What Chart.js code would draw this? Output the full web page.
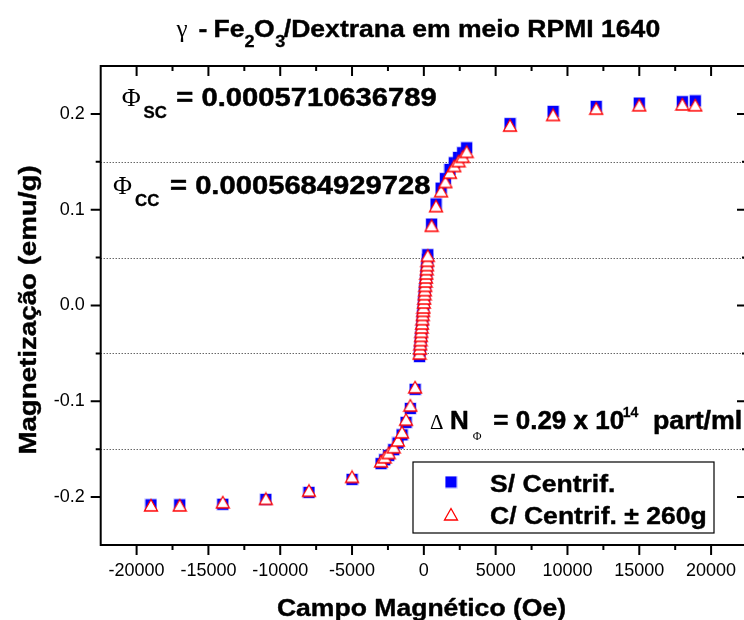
<!DOCTYPE html>
<html>
<head>
<meta charset="utf-8">
<title>Fe2O3/Dextrana - RPMI 1640</title>
<script src="https://cdn.jsdelivr.net/npm/chart.js@4.4.1/dist/chart.umd.min.js"></script>
<style>
  html, body { margin: 0; padding: 0; background: #fff; overflow: hidden; }
  #wrap { width: 760px; height: 620px; }
</style>
</head>
<body>
<div id="wrap"><canvas id="myChart" width="760" height="620"></canvas></div>
<script>
// campo aplicado (Oe) - mesmo ciclo para as duas amostras
var campo = [
  -19000, -17000, -14000, -11000, -8000, -5000,
  -2980, -2730, -2450, -2100, -1800, -1520, -1240, -940, -610,
  -300, -275, -250, -225, -200, -175, -150, -125, -100, -75, -50, -25,
  0, 25, 50, 75, 100, 125, 150, 175, 200, 225, 250, 275,
  540, 850, 1200, 1500, 1820, 2120, 2420, 2700, 2980,
  6000, 9000, 12000, 15000, 18000, 18900
];

// magnetizacao (emu/g) sem centrifugar
var magSemCentrif = [
  -0.2081, -0.2081, -0.2075, -0.2024, -0.1951, -0.1815,
  -0.1650, -0.1610, -0.1565, -0.1505, -0.1435, -0.1350, -0.1220, -0.1075, -0.0875,
  -0.0533, -0.0478, -0.0430, -0.0385, -0.0338, -0.0293, -0.0246, -0.0200, -0.0153, -0.0105, -0.0060, -0.0022,
  0.0032, 0.0076, 0.0122, 0.0165, 0.0211, 0.0258, 0.0301, 0.0344, 0.0390, 0.0434, 0.0481, 0.0530,
  0.0850, 0.1060, 0.1225, 0.1325, 0.1420, 0.1490, 0.1545, 0.1595, 0.1646,
  0.1899, 0.2026, 0.2078, 0.2113, 0.2127, 0.2136
];

// magnetizacao (emu/g) centrifugada a 260g
var magComCentrif = [
  -0.2087, -0.2087, -0.2055, -0.2019, -0.1934, -0.1789,
  -0.1627, -0.1585, -0.1540, -0.1480, -0.1410, -0.1324, -0.1192, -0.1045, -0.0854,
  -0.0502, -0.0450, -0.0404, -0.0362, -0.0317, -0.0275, -0.0230, -0.0188, -0.0143, -0.0098, -0.0056, -0.0021,
  0.0031, 0.0073, 0.0118, 0.0160, 0.0205, 0.0250, 0.0292, 0.0334, 0.0379, 0.0421, 0.0467, 0.0519,
  0.0832, 0.1037, 0.1193, 0.1289, 0.1386, 0.1456, 0.1507, 0.1552, 0.1603,
  0.1878, 0.1989, 0.2055, 0.2090, 0.2099, 0.2090
];

var xTicks = [-20000, -15000, -10000, -5000, 0, 5000, 10000, 15000, 20000];
var xMinor = [-17500, -12500, -7500, -2500, 2500, 7500, 12500, 17500];
var yTicks = [-0.2, -0.1, 0, 0.1, 0.2];
var yMinor = [-0.15, -0.05, 0.05, 0.15];

var SANS = '"Liberation Sans", Arial, sans-serif';
var SERIF = '"Liberation Serif", "Times New Roman", serif';
var STRETCH = 1.13;

function pts(ys) {
  return campo.map(function(x, i) { return { x: x, y: ys[i] }; });
}

// marcadores: quadrado azul cheio e triangulo vazado vermelho
function makeSquare() {
  var c = document.createElement('canvas');
  c.width = 13; c.height = 13;
  var g = c.getContext('2d');
  g.fillStyle = 'rgba(60,60,255,0.45)';
  g.fillRect(0.5, 0.5, 12, 12);
  g.fillStyle = '#0000ff';
  g.fillRect(1, 1, 11, 11);
  return c;
}

function makeTriangle() {
  var c = document.createElement('canvas');
  c.width = 16; c.height = 15;
  var g = c.getContext('2d');
  g.beginPath();
  g.moveTo(8, 1.5);
  g.lineTo(14.5, 13);
  g.lineTo(1.5, 13);
  g.closePath();
  g.fillStyle = '#ffffff';
  g.fill();
  g.strokeStyle = '#ff0000';
  g.lineWidth = 1.3;
  g.stroke();
  return c;
}

var squareMark = makeSquare();
var triMark = makeTriangle();

// texto com esticamento horizontal; 'peso' engrossa um pouco o negrito
function txt(ctx, str, x, y, font, sx, align, peso) {
  ctx.save();
  ctx.font = font;
  ctx.textAlign = align || 'left';
  ctx.textBaseline = 'alphabetic';
  ctx.translate(x, y);
  ctx.scale(sx || 1, 1);
  ctx.fillText(str, 0, 0);
  if (peso) {
    ctx.lineWidth = peso;
    ctx.strokeStyle = '#000';
    ctx.lineJoin = 'round';
    ctx.strokeText(str, 0, 0);
  }
  ctx.restore();
}

var molduraPlugin = {
  id: 'moldura',
  beforeDatasetsDraw: function(chart) {
    var ctx = chart.ctx, a = chart.chartArea, ys = chart.scales.y;
    ctx.save();
    ctx.strokeStyle = '#222';
    ctx.lineWidth = 1;
    ctx.setLineDash([1, 2]);
    yMinor.forEach(function(v) {
      var py = Math.round(ys.getPixelForValue(v)) + 0.5;
      ctx.beginPath();
      ctx.moveTo(a.left, py);
      ctx.lineTo(a.right, py);
      ctx.stroke();
    });
    ctx.restore();
  },
  afterDraw: function(chart) {
    var ctx = chart.ctx, a = chart.chartArea;
    var xs = chart.scales.x, ys = chart.scales.y;
    ctx.save();
    ctx.strokeStyle = '#000';
    ctx.fillStyle = '#000';
    ctx.lineWidth = 2;
    ctx.strokeRect(a.left, a.top, a.right - a.left, a.bottom - a.top);

    function tickX(v, len) {
      var px = xs.getPixelForValue(v);
      ctx.beginPath();
      ctx.moveTo(px, a.bottom); ctx.lineTo(px, a.bottom + len);   // de baixo, para fora
      ctx.moveTo(px, a.top); ctx.lineTo(px, a.top + len);         // de cima, para dentro
      ctx.stroke();
    }
    function tickY(v, len) {
      var py = ys.getPixelForValue(v);
      ctx.beginPath();
      ctx.moveTo(a.left, py); ctx.lineTo(a.left - len, py);
      ctx.moveTo(a.right, py); ctx.lineTo(a.right - len, py);
      ctx.stroke();
    }
    xTicks.forEach(function(v) { tickX(v, 10); });
    xMinor.forEach(function(v) { tickX(v, 5); });
    yTicks.forEach(function(v) { tickY(v, 10); });
    yMinor.forEach(function(v) { tickY(v, 5); });

    // titulo
    var B = 'bold 23.5px ' + SANS;
    txt(ctx, '\u03b3', 176.6, 36.7, '25px ' + SERIF, 1);
    txt(ctx, '-', 198.4, 36.7, B, STRETCH, 'left', 0.4);
    txt(ctx, 'Fe', 213.6, 36.7, B, STRETCH, 'left', 0.4);
    txt(ctx, '2', 244.4, 46.7, 'bold 16px ' + SANS, STRETCH, 'left', 0.3);
    txt(ctx, 'O', 254, 36.7, B, STRETCH, 'left', 0.4);
    txt(ctx, '3', 275.3, 46.7, 'bold 16px ' + SANS, STRETCH, 'left', 0.3);
    txt(ctx, '/Dextrana em meio RPMI 1640', 283.8, 36.7, B, STRETCH, 'left', 0.4);

    // titulos dos eixos
    txt(ctx, 'Campo Magn\u00e9tico (Oe)', 421.5, 616, B, STRETCH, 'center', 0.4);
    ctx.save();
    ctx.translate(36, 310);
    ctx.rotate(-Math.PI / 2);
    txt(ctx, 'Magnetiza\u00e7\u00e3o (emu/g)', 0, 0, 'bold 24.5px ' + SANS, STRETCH, 'center', 0.4);
    ctx.restore();

    // fracoes de volume
    txt(ctx, '\u03a6', 121.7, 106, '26px ' + SERIF, 1);
    txt(ctx, 'SC', 143.5, 118.3, 'bold 16px ' + SANS, 1.05, 'left', 0.3);
    txt(ctx, '= 0.0005710636789', 176.3, 105.5, 'bold 25.6px ' + SANS, 1.14, 'left', 0.5);

    txt(ctx, '\u03a6', 113.1, 193.5, '26px ' + SERIF, 1);
    txt(ctx, 'CC', 135, 206, 'bold 16px ' + SANS, 1.05, 'left', 0.3);
    txt(ctx, '= 0.0005684929728', 170, 193.5, 'bold 25.6px ' + SANS, 1.14, 'left', 0.5);

    // diferenca de particulas
    txt(ctx, '\u0394', 430, 428.5, '21px ' + SERIF, 1);
    txt(ctx, 'N', 450, 429, 'bold 26px ' + SANS, 1, 'left', 0.5);
    txt(ctx, '\u03a6', 472.7, 439.5, '12px ' + SERIF, 1);
    txt(ctx, '= 0.29 x 10', 493.3, 429, 'bold 26px ' + SANS, 1, 'left', 0.5);
    txt(ctx, '14', 622.7, 416.7, 'bold 14px ' + SANS, 1, 'left', 0.3);
    txt(ctx, 'part/ml', 653, 429, 'bold 26px ' + SANS, 1.03, 'left', 0.5);

    // legenda
    ctx.lineWidth = 1.2;
    ctx.strokeRect(413, 462, 301, 71);
    var ds = chart.data.datasets;
    var rows = [482, 514.5];
    ds.forEach(function(d, i) {
      var m = d.pointStyle;
      ctx.drawImage(m, 451 - m.width / 2, rows[i] - m.height / 2);
      txt(ctx, d.label, 490, rows[i] + 9.7, B, STRETCH, 'left', 0.4);
    });
    ctx.restore();
  }
};

var ctx = document.getElementById('myChart').getContext('2d');
var chart = new Chart(ctx, {
  type: 'scatter',
  data: {
    datasets: [{
      label: 'S/ Centrif.',
      data: pts(magSemCentrif),
      pointStyle: squareMark,
      order: 2
    }, {
      label: 'C/ Centrif. \u00b1 260g',
      data: pts(magComCentrif),
      pointStyle: triMark,
      order: 1
    }]
  },
  options: {
    responsive: false,
    animation: false,
    events: [],
    layout: { padding: { top: 66, right: 13, left: 0, bottom: 0 } },
    plugins: {
      legend: { display: false },
      tooltip: { enabled: false },
      title: { display: false }
    },
    scales: {
      x: {
        type: 'linear',
        min: -22500,
        max: 22500,
        afterBuildTicks: function(scale) {
          scale.ticks = xTicks.map(function(v) { return { value: v }; });
        },
        afterFit: function(scale) { scale.height = 75; },
        grid: { display: false, drawTicks: true, tickLength: 10 },
        border: { display: false },
        ticks: {
          autoSkip: false,
          maxRotation: 0,
          padding: 5,
          color: '#000',
          font: { family: 'Liberation Sans', size: 18 },
          callback: function(v) { return String(v); }
        }
      },
      y: {
        type: 'linear',
        min: -0.25,
        max: 0.25,
        afterBuildTicks: function(scale) {
          scale.ticks = yTicks.map(function(v) { return { value: v }; });
        },
        afterFit: function(scale) { scale.width = 100.7; },
        grid: { display: false, drawTicks: true, tickLength: 10 },
        border: { display: false },
        ticks: {
          padding: 6,
          color: '#000',
          font: { family: 'Liberation Sans', size: 18 },
          callback: function(v) { return v.toFixed(1); }
        }
      }
    }
  },
  plugins: [molduraPlugin]
});
</script>
</body>
</html>
